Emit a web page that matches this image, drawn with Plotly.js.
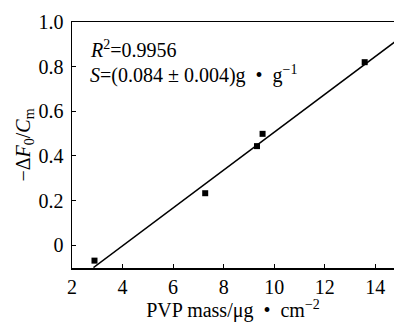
<!DOCTYPE html>
<html><head><meta charset="utf-8">
<script src="https://cdn.plot.ly/plotly-3.0.1.min.js"></script>
<style>html,body{margin:0;padding:0;background:#fff;}#chart{width:394px;height:322px;}</style>
</head><body><div id="chart"></div>
<script>
var massX = [2.89, 7.27, 9.32, 9.54, 13.58];
var responseY = [-0.069, 0.233, 0.444, 0.499, 0.82];
var fitX = [2.85, 14.8];
var fitY = [-0.1, 0.913];
var xTicks = [2, 4, 6, 8, 10, 12, 14];
var yTicks = [0, 0.2, 0.4, 0.6, 0.8, 1.0];
var yTickText = ['0', '0.2', '0.4', '0.6', '0.8', '1.0'];
var annR2 = '<i>R</i><sup>2</sup>=0.9956';
var annS = '<i>S</i>=(0.084 ± 0.004)g  •  g<sup>−1</sup>';

var font = 'Liberation Serif, Times New Roman, serif';
var data = [
  {x: fitX, y: fitY, mode: 'lines', line: {color: '#000', width: 1.5}, hoverinfo: 'skip'},
  {x: massX, y: responseY, mode: 'markers', marker: {symbol: 'square', size: 6, color: '#000'}}
];
var layout = {
  width: 394, height: 322,
  margin: {l: 72, r: 0, t: 22, b: 54},
  showlegend: false,
  paper_bgcolor: '#fff', plot_bgcolor: '#fff',
  font: {family: font, size: 20, color: '#000'},
  xaxis: {
    range: [2, 14.74], tickvals: xTicks, ticks: 'inside', ticklen: 4, tickwidth: 1, tickcolor: '#000',
    showline: true, linecolor: '#000', linewidth: 1.5, mirror: true, showgrid: false, zeroline: false,
    tickfont: {family: font, size: 20},
    title: {text: 'PVP mass/μg  •  cm<sup>−2</sup>', font: {family: font, size: 20}, standoff: 4}
  },
  yaxis: {
    range: [-0.102, 1.0], tickvals: yTicks, ticktext: yTickText, ticks: 'inside', ticklen: 4, tickwidth: 1, tickcolor: '#000',
    showline: true, linecolor: '#000', linewidth: 1.5, showgrid: false, zeroline: false,
    tickfont: {family: font, size: 20}, ticklabelstandoff: 3,
    title: {text: '−Δ<i>F</i><sub>0</sub>/<i>C</i><sub>m</sub>', font: {family: font, size: 20}, standoff: 2}
  },
  annotations: [
    {xref: 'paper', yref: 'paper', x: 0.05, y: 0.89, xanchor: 'left', yanchor: 'middle', showarrow: false, text: annR2, font: {family: font, size: 20}},
    {xref: 'paper', yref: 'paper', x: 0.05, y: 0.785, xanchor: 'left', yanchor: 'middle', showarrow: false, text: annS, font: {family: font, size: 20}}
  ]
};
Plotly.newPlot('chart', data, layout, {displayModeBar: false, staticPlot: true});
</script></body></html>
